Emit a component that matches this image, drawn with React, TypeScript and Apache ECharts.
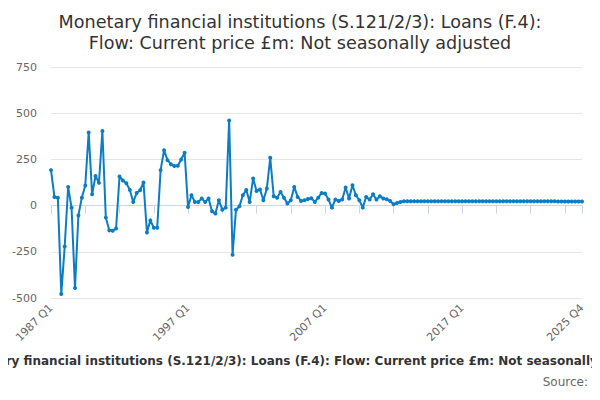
import React, { useEffect, useRef } from "react";
import * as echarts from "echarts";

const startYear = 1987;
const quarterCount = 156;
const categories: string[] = [];
for (let i = 0; i < quarterCount; i++) {
  categories.push(`${startYear + Math.floor(i / 4)} Q${(i % 4) + 1}`);
}

const values1987to2005: number[] = [
  192, 47, 43, -478, -221, 101, -11, -446, -53, 43, 109, 395, 61, 160, 123, 404,
  -65, -134, -136, -124, 157, 136, 121, 85, 20, 68, 83, 125, -145, -80, -120, -120,
  192, 300, 246, 224, 214, 216, 250, 286, -8, 56, 20, 20, 38, 20, 38, -31,
  -43, 29, -22, -11, 460, -266, -22, -4, 56, 85, 20, 147, 79, 87, 29, 92,
  259, 51, 43, 74, 43, 11, 29, 101, 47, 25, 29, 36,
];
const values2006to2012: number[] = [
  40, 20, 43, 68, 65, 33, -11, 33, 25, 33, 98, 38, 110, 56, 29, -11,
  47, 33, 61, 33, 51, 38, 34, 25, 7, 14, 20,
];
const valuesFlatTail: number[] = [
  23, 23, 23, 23, 23, 23, 23, 23, 23, 23, 23, 23, 23, 23, 23, 23, 23, 23, 23, 23,
  23, 23, 23, 23, 23, 23, 23, 23, 23, 23, 23, 23, 23, 23, 23, 23, 23, 23, 23, 23,
  23, 23, 23, 23, 23, 22, 22, 22, 22, 22, 22, 22, 22,
];
const seriesValues = [...values1987to2005, ...values2006to2012, ...valuesFlatTail].slice(0, quarterCount);

const yTicks = { min: -500, max: 750, interval: 250 };

const titleLines = [
  "Monetary financial institutions (S.121/2/3): Loans (F.4):",
  "Flow: Current price £m: Not seasonally adjusted",
];
const captionText =
  "Monetary financial institutions (S.121/2/3): Loans (F.4): Flow: Current price £m: Not seasonally adjusted";
const sourceText = "Source:";

const FONT = "'DejaVu Sans', Verdana, sans-serif";

export default function App() {
  const ref = useRef<HTMLDivElement>(null);
  useEffect(() => {
    if (!ref.current) return;
    const chart = echarts.init(ref.current, undefined, { renderer: "svg" });
    const last = quarterCount - 1;
    chart.setOption({
      animation: false,
      backgroundColor: "#ffffff",
      textStyle: { fontFamily: FONT },
      title: {
        text: titleLines.join("\n"),
        left: "center",
        top: 6,
        textStyle: {
          fontFamily: FONT,
          fontSize: 17.6,
          fontWeight: "normal",
          color: "#333333",
          lineHeight: 21,
        },
      },
      grid: { left: 51, right: 18, top: 67, bottom: 102, containLabel: false },
      xAxis: {
        type: "category",
        data: categories,
        boundaryGap: false,
        axisLine: { show: true, lineStyle: { color: "#ccd6eb", width: 1 } },
        axisTick: {
          show: true,
          length: 8,
          lineStyle: { color: "#ccd6eb" },
          interval: (i: number) => i % 10 === 0 || i === last,
        },
        axisLabel: {
          rotate: 45,
          color: "#666666",
          fontSize: 11,
          fontFamily: FONT,
          margin: 8,
          interval: (i: number) => i % 40 === 0 || i === last,
        },
        splitLine: { show: false },
      },
      yAxis: {
        type: "value",
        min: yTicks.min,
        max: yTicks.max,
        interval: yTicks.interval,
        axisLine: { show: false },
        axisTick: { show: false },
        axisLabel: { color: "#666666", fontSize: 11, fontFamily: FONT, margin: 14 },
        splitLine: { lineStyle: { color: "#e6e6e6", width: 1 } },
      },
      series: [
        {
          type: "line",
          data: seriesValues,
          symbol: "circle",
          symbolSize: 4,
          showAllSymbol: true,
          lineStyle: { color: "#0b7dc3", width: 2 },
          itemStyle: { color: "#0b7dc3" },
        },
      ],
      graphic: [
        {
          type: "text",
          x: 308,
          y: 355,
          style: {
            text: captionText,
            font: `bold 12px ${FONT}`,
            fill: "#333333",
            textAlign: "center",
          },
        },
        {
          type: "text",
          right: 12,
          top: 376,
          style: {
            text: sourceText,
            font: `12px ${FONT}`,
            fill: "#666666",
          },
        },
      ],
    });
    return () => chart.dispose();
  }, []);
  return <div ref={ref} style={{ width: 600, height: 400, margin: -8 }} />;
}
